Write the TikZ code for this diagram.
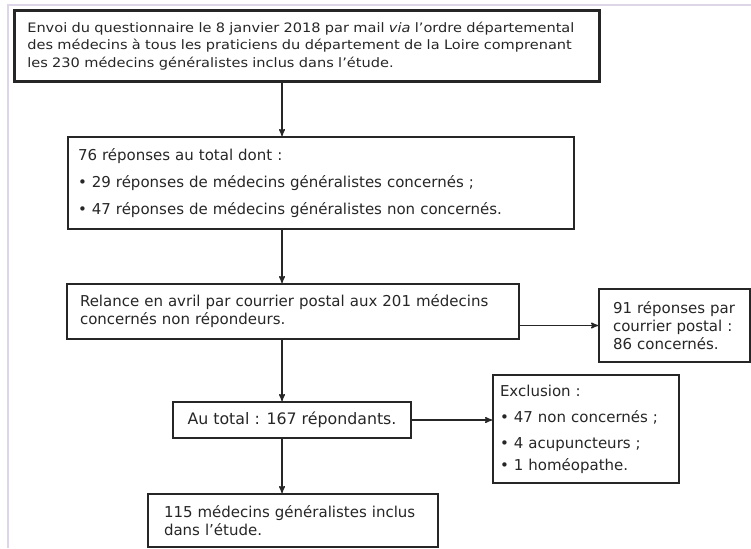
\documentclass[tikz,border=0pt]{standalone}
\usepackage{fontspec}
\setmainfont{DejaVu Sans}
\newfontfamily\widefont[FakeStretch=1.12]{DejaVu Sans}
\usetikzlibrary{arrows}
\usetikzlibrary{positioning}
\definecolor{framegray}{RGB}{222,214,232}
\definecolor{inkgray}{RGB}{38,38,38}

\begin{document}
\begin{tikzpicture}[x=1pt,y=-1pt,->,>=stealth',line width=1.4pt,color=inkgray]
			\tikzstyle{box}=[draw,line width=2pt,anchor=north west,inner ysep=0pt,align=left,
			font=\fontsize{15}{18}\selectfont]
			
			\useasboundingbox (0,0) rectangle (751,548);
			\draw[-,framegray,line width=1.5pt] (8,548) -- (8,5) -- (751,5);
			
			\node[box,line width=2.6pt,inner xsep=13pt,text width=559pt,minimum height=71pt,
			font=\widefont\fontsize{13}{17.5}\selectfont] (B1) at (13,9)
			{Envoi du questionnaire le 8 janvier 2018 par mail \textit{via} l’ordre départemental\\
				des médecins à tous les praticiens du département de la Loire comprenant\\
				les 230 médecins généralistes inclus dans l’étude.};
			\node[box,inner xsep=10pt,text width=486pt,minimum height=92pt] (B2) at (67,136)
			{76 réponses au total dont :\\[9pt]
				• 29 réponses de médecins généralistes concernés ;\\[9pt]
				• 47 réponses de médecins généralistes non concernés.};
			\node[box,inner xsep=13pt,text width=426pt,minimum height=55pt] (B3) at (66,283)
			{\makebox[423pt][s]{Relance en avril par courrier postal aux 201 médecins}\\
				concernés non répondeurs.};
			\node[box,inner xsep=14pt,text width=123pt,minimum height=73pt] (B4) at (598,288)
			{91 réponses par\\ courrier postal :\\ 86 concernés.};
			\node[box,align=center,minimum width=238pt,minimum height=36pt,
			font=\fontsize{15.8}{18}\selectfont] (B5) at (172,401)
			{Au total : 167 répondants.};
			\node[box,inner xsep=7pt,text width=172pt,minimum height=108pt] (B6) at (492,374)
			{Exclusion :\\[8pt] • 47 non concernés ;\\[8pt] • 4 acupuncteurs ;\\[4pt] • 1 homéopathe.};
			\node[box,inner xsep=16pt,text width=258pt,minimum height=53pt] (B7) at (147,493)
			{115 médecins généralistes inclus\\ dans l’étude.};
			
			\coordinate (mid) at (282,0);
			
			\path (B1.south -| mid) edge (B2.north -| mid)
			(B2.south -| mid) edge (B3.north -| mid)
			(B3.south -| mid) edge (B5.north -| mid)
			(B5.south -| mid) edge (B7.north -| mid)
			(B4.west -| B3.east) edge (B4.west)
			(B5.east) edge (B5.east -| B6.west)
			;
			\end{tikzpicture}
\end{document}
